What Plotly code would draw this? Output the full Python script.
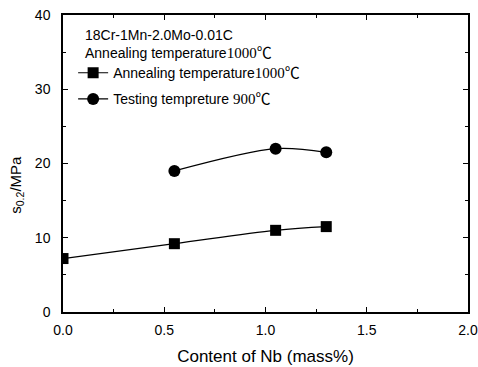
import plotly.graph_objects as go

nb_anneal = [0.0, 0.55, 1.05, 1.3]
ys_anneal = [7.2, 9.2, 11.0, 11.5]
nb_test = [0.55, 1.05, 1.3]
ys_test = [19.0, 22.0, 21.5]

SERIF = "font-family:'Liberation Serif','Noto Sans CJK SC',serif;font-size:15px"
name_anneal = f"Annealing temperature<span style=\"{SERIF}\">1000℃</span>"
name_test = f"Testing tempreture <span style=\"{SERIF}\">900℃</span>"
note_lines = ["18Cr-1Mn-2.0Mo-0.01C", f"Annealing temperature<span style=\"{SERIF}\">1000℃</span>"]

FONT = "Liberation Sans, Arial, Noto Sans CJK SC, sans-serif"

fig = go.Figure()
fig.add_trace(go.Scatter(
    x=nb_anneal, y=ys_anneal, name=name_anneal, mode="lines+markers", legendgroup="a",
    line=dict(color="black", width=1.2, shape="spline", smoothing=1.0),
    marker=dict(symbol="square", size=11, color="black"),
))
fig.add_trace(go.Scatter(
    x=nb_test, y=ys_test, name=name_test, mode="lines+markers", legendgroup="b",
    line=dict(color="black", width=1.2, shape="spline", smoothing=0.9),
    marker=dict(symbol="circle", size=12, color="black"),
))

axis_common = dict(
    showgrid=False, zeroline=False, showline=True, linecolor="black", linewidth=1.5,
    mirror="ticks", ticks="inside", ticklen=5, tickcolor="black", automargin=False,
    ticklabeloverflow="allow",
    tickfont=dict(family=FONT, size=14, color="black"),
)
fig.update_xaxes(
    range=[0, 2.0], tick0=0, dtick=0.5, tickformat=".1f", ticklabelstandoff=4,
    minor=dict(dtick=0.25, ticks="inside", ticklen=3, tickcolor="black"),
    title=dict(text="Content of Nb (mass%)", font=dict(family=FONT, size=17, color="black"), standoff=14),
    **axis_common,
)
fig.update_yaxes(
    range=[0, 40], tick0=0, dtick=10, ticklabelstandoff=8,
    minor=dict(dtick=5, ticks="inside", ticklen=3, tickcolor="black"),
    **axis_common,
)

fig.add_annotation(
    xref="paper", yref="paper", x=-0.115, y=0.43, xanchor="center", yanchor="middle",
    text="s<sub>0.2</sub>/MPa", textangle=-90, showarrow=False,
    font=dict(family=FONT, size=15, color="black"),
)
fig.add_annotation(
    xref="paper", yref="paper", x=0.05, y=0.965, xanchor="left", yanchor="top",
    text="<br>".join(note_lines), showarrow=False, align="left",
    font=dict(family=FONT, size=14, color="black"),
)

fig.update_layout(
    width=478, height=367,
    margin=dict(l=63, r=10, t=15, b=55),
    paper_bgcolor="white", plot_bgcolor="white",
    showlegend=True,
    legend=dict(x=0.025, y=0.858, xanchor="left", yanchor="top",
                bgcolor="rgba(0,0,0,0)", font=dict(family=FONT, size=14, color="black"),
                tracegroupgap=5, itemwidth=30),
)

# remove the default page margin so the figure fills the window exactly; hide the modebar
fig.write_html("out.html",
               config={"displayModeBar": False},
               post_script="document.body.style.margin='0';document.body.style.overflow='hidden';")
